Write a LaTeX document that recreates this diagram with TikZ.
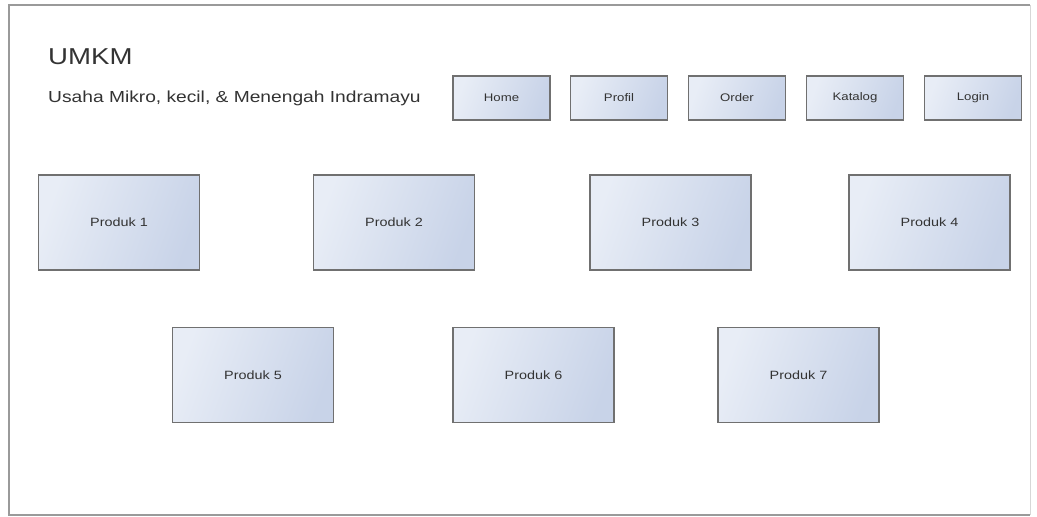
\documentclass[tikz,border=0pt]{standalone}
\usepackage{fontspec}
\setmainfont[FakeStretch=1.2]{Liberation Sans}
\definecolor{frameg}{HTML}{9A9A9A}
\definecolor{boxline}{HTML}{707070}
\definecolor{boxlight}{HTML}{E8EDF6}
\definecolor{boxdark}{HTML}{C8D3E8}
\definecolor{txt}{HTML}{333333}
\begin{document}
\begin{tikzpicture}[x=1pt,y=-1pt,
  uibox/.style={draw=boxline, line width=1.3pt, left color=boxlight, right color=boxdark,
    shading angle=70, inner sep=0pt, text=txt},
  navbtn/.style={uibox, minimum width=97pt, minimum height=44pt, font=\fontsize{11}{13}\selectfont},
  prodbox/.style={uibox, minimum width=161pt, minimum height=95pt, font=\fontsize{12}{14}\selectfont},
  title/.style={inner sep=0pt, anchor=base west, text=txt}]
\useasboundingbox (0,0) rectangle (1037,517);
% frame
\draw[frameg, line width=2pt] (1030,5) -- (9,5) -- (9,515) -- (1030,515);
\draw[frameg!40, line width=1pt] (1030,5) -- (1030,515);
% header
\node[title, font=\fontsize{23}{27}\selectfont] (umkm) at (48,64) {UMKM};
\node[title, font=\fontsize{16}{19}\selectfont] (sub) at (48,102) {Usaha Mikro, kecil, \& Menengah Indramayu};
% nav buttons
\node[navbtn] (home) at (501.5,98) {Home};
\node[navbtn] (profil) at (619,98) {Profil};
\node[navbtn] (order) at (737,98) {Order};
\node[navbtn] (katalog) at (855,98) {Katalog};
\node[navbtn] (login) at (973,98) {Login};
% products row 1
\node[prodbox] (p1) at (119,222.5) {Produk 1};
\node[prodbox] (p2) at (394,222.5) {Produk 2};
\node[prodbox] (p3) at (670.5,222.5) {Produk 3};
\node[prodbox] (p4) at (929.5,222.5) {Produk 4};
% products row 2
\node[prodbox] (p5) at (253,375) {Produk 5};
\node[prodbox] (p6) at (533.5,375) {Produk 6};
\node[prodbox] (p7) at (798.5,375) {Produk 7};
\end{tikzpicture}
\end{document}
